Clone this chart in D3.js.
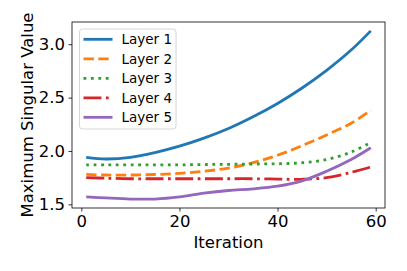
<!DOCTYPE html>
<html><head><meta charset="utf-8">
<script src="https://cdn.jsdelivr.net/npm/d3@7"></script>
<style>body{margin:0;background:#fff}svg{display:block}text{font-family:"DejaVu Sans",sans-serif}</style>
</head><body>
<script>
const iterations = [1,5,10,15,20,25,30,35,40,45,50,55,59];
const layer1 = [1.94,1.925,1.94,1.985,2.045,2.12,2.21,2.32,2.445,2.59,2.755,2.945,3.125];
const layer2 = [1.78,1.775,1.775,1.78,1.79,1.81,1.84,1.89,1.96,2.05,2.15,2.26,2.38];
const layer3 = [1.87,1.87,1.87,1.87,1.87,1.873,1.875,1.878,1.88,1.89,1.92,1.99,2.08];
const layer4 = [1.75,1.745,1.74,1.74,1.74,1.74,1.74,1.74,1.737,1.735,1.75,1.80,1.85];
const layer5 = [1.57,1.56,1.55,1.55,1.57,1.605,1.63,1.645,1.67,1.72,1.81,1.92,2.03];
const seriesNames = ["Layer 1","Layer 2","Layer 3","Layer 4","Layer 5"];
const seriesValues = [layer1,layer2,layer3,layer4,layer5];
const colors = ["#1f77b4","#ff7f0e","#2ca02c","#d62728","#9467bd"];
const xTicks = [0,20,40,60];
const yTicks = [1.5,2.0,2.5,3.0];

const W=407,H=271, lw=2.8;
const dashes = [null, `${3.7*lw},${1.6*lw}`, `${1*lw},${1.65*lw}`, `${6.4*lw},${1.6*lw},${1*lw},${1.6*lw}`, null];
const m={left:72,top:22,right:385,bottom:208};
const svg=d3.select("body").append("svg").attr("width",W).attr("height",H);
const x=d3.scaleLinear().domain([-1.9,61.9]).range([m.left,m.right]);
const y=d3.scaleLinear().domain([1.466,3.208]).range([m.bottom,m.top]);

const gx=svg.append("g").attr("transform",`translate(0,${m.bottom})`)
  .call(d3.axisBottom(x).tickValues(xTicks).tickFormat(d3.format("d")).tickSizeOuter(0).tickSize(3.5).tickPadding(3.5));
const gy=svg.append("g").attr("transform",`translate(${m.left},0)`)
  .call(d3.axisLeft(y).tickValues(yTicks).tickFormat(d3.format(".1f")).tickSizeOuter(0).tickSize(3.5).tickPadding(3.5));
[gx,gy].forEach(g=>{g.select(".domain").remove();g.selectAll("line").attr("stroke","#000").attr("stroke-width",0.8);
  g.selectAll("text").attr("font-size",16.5).attr("fill","#000").style("font-family","DejaVu Sans");});

const line=d3.line().x((d,i)=>x(iterations[i])).y(d=>y(d)).curve(d3.curveCatmullRom.alpha(0.5));
seriesValues.forEach((vals,k)=>{
  svg.append("path").datum(vals).attr("d",line).attr("fill","none").attr("stroke",colors[k])
    .attr("stroke-width",lw).attr("stroke-dasharray",dashes[k]);
});
svg.append("rect").attr("x",m.left).attr("y",m.top).attr("width",m.right-m.left).attr("height",m.bottom-m.top)
  .attr("fill","none").attr("stroke","#000").attr("stroke-width",0.8);

// legend
const lg=svg.append("g");
lg.append("rect").attr("x",79.5).attr("y",29).attr("width",96.5).attr("height",100).attr("rx",3)
  .attr("fill","#fff").attr("fill-opacity",0.8).attr("stroke","#ccc").attr("stroke-width",0.8);
seriesNames.forEach((n,k)=>{
  const yy=39.3+k*19.5;
  lg.append("line").attr("x1",83.5).attr("x2",112.5).attr("y1",yy).attr("y2",yy)
    .attr("stroke",colors[k]).attr("stroke-width",lw).attr("stroke-dasharray",dashes[k]);
  lg.append("text").attr("x",121.5).attr("y",yy).attr("dy","0.36em").attr("font-size",13.5).text(n);
});

svg.append("text").attr("x",(m.left+m.right)/2).attr("y",248).attr("text-anchor","middle").attr("font-size",16.5).text("Iteration");
svg.append("text").attr("transform",`translate(33,${(m.top+m.bottom)/2}) rotate(-90)`).attr("text-anchor","middle").attr("font-size",16.5).text("Maximum Singular Value");
</script>
</body></html>
